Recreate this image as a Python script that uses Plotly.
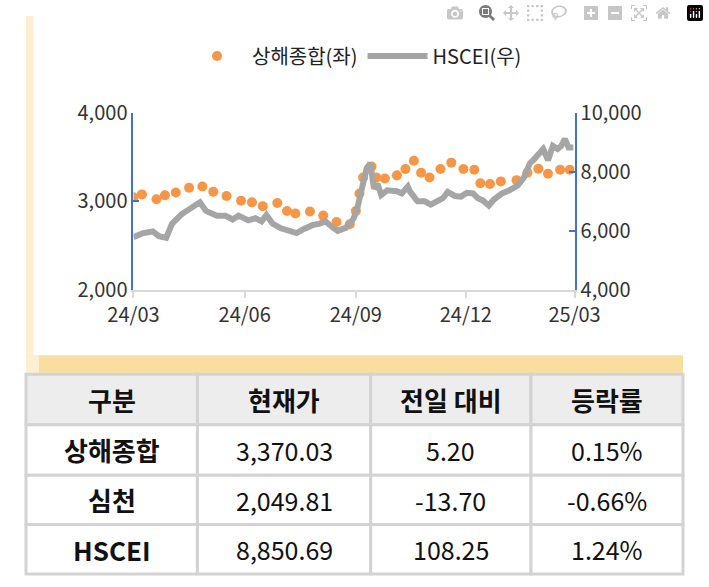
import plotly.graph_objects as go

sh_dates = ["2024-03-01","2024-03-08","2024-03-20","2024-03-27","2024-04-05","2024-04-16","2024-04-27",
            "2024-05-06","2024-05-17","2024-05-29","2024-06-07","2024-06-16","2024-06-28","2024-07-06",
            "2024-07-13","2024-07-25","2024-08-05","2024-08-16","2024-08-27","2024-09-01","2024-09-04",
            "2024-09-07","2024-09-14","2024-09-18","2024-09-25","2024-10-05","2024-10-12","2024-10-19",
            "2024-10-25","2024-11-01","2024-11-10","2024-11-19","2024-11-29","2024-12-08","2024-12-13",
            "2024-12-21","2024-12-30","2025-01-12","2025-01-21","2025-01-30","2025-02-07","2025-02-17",
            "2025-02-25"]
sh_vals = [3046,3079,3025,3068,3100,3154,3169,3108,3061,3007,2989,2946,2982,2892,2863,2885,2839,2767,
           2742,2892,3090,3269,3394,3269,3258,3294,3366,3459,3323,3269,3366,3438,3366,3358,3204,3197,
           3226,3240,3323,3369,3312,3358,3358]

hs_dates = ["2024-03-01","2024-03-09","2024-03-17","2024-03-22","2024-03-28","2024-04-02","2024-04-10",
            "2024-04-16","2024-04-25","2024-04-30","2024-05-09","2024-05-16","2024-05-22","2024-05-27",
            "2024-06-04","2024-06-10","2024-06-15","2024-06-19","2024-06-24","2024-07-01","2024-07-07",
            "2024-07-14","2024-07-20","2024-07-27","2024-08-02","2024-08-07","2024-08-12","2024-08-17",
            "2024-08-24","2024-08-30","2024-09-02","2024-09-06","2024-09-10","2024-09-13","2024-09-14",
            "2024-09-16","2024-09-19","2024-09-22","2024-09-27","2024-10-05","2024-10-09","2024-10-14",
            "2024-10-16","2024-10-22","2024-10-28","2024-11-02","2024-11-07","2024-11-12","2024-11-16",
            "2024-11-22","2024-11-27","2024-12-02","2024-12-07","2024-12-11","2024-12-15","2024-12-20",
            "2024-12-24","2024-12-31","2025-01-06","2025-01-13","2025-01-18","2025-01-23","2025-01-27",
            "2025-01-31","2025-02-03","2025-02-07","2025-02-11","2025-02-15","2025-02-18","2025-02-21",
            "2025-02-24","2025-02-28"]
hs_vals = [5785,5924,5978,5817,5763,6247,6570,6731,6968,6677,6516,6516,6387,6516,6355,6430,6322,6537,
           6247,6086,6032,5924,6064,6193,6247,6322,6140,6000,6107,6408,6731,7484,8129,8290,7914,7430,
           7591,7215,7376,7344,7269,7505,7322,7000,7000,6892,7000,7107,7322,7183,7161,7290,7269,7107,
           7032,6860,7054,7269,7376,7537,7806,8290,8451,8613,8774,8398,8882,8774,8882,9118,8828,8828]

tbl_header = ["구분", "현재가", "전일 대비", "등락률"]
tbl_names = ["상해종합", "심천", "HSCEI"]
tbl_price = ["3,370.03", "2,049.81", "8,850.69"]
tbl_change = ["5.20", "-13.70", "108.25"]
tbl_rate = ["0.15%", "-0.66%", "1.24%"]

W, H = 709, 587
FONT = "Noto Sans CJK KR"
fig = go.Figure()
fig.add_trace(go.Scatter(x=sh_dates, y=sh_vals, mode="markers", name="상해종합(좌)",
                         marker=dict(color="#f79646", size=10), yaxis="y"))
fig.add_trace(go.Scatter(x=hs_dates, y=hs_vals, mode="lines", name="HSCEI(우)",
                         line=dict(color="#a5a5a5", width=6), yaxis="y2"))

# table drawn with shapes + annotations
col_edges = [0, 185, 372, 545, 709]
row_edges = [377, 430, 483, 535, 587]
rows = [tbl_header] + [list(r) for r in zip(tbl_names, tbl_price, tbl_change, tbl_rate)]
shapes = [
    dict(type="rect", xref="paper", yref="paper", x0=0, x1=8 / W, y0=1 - 357 / H, y1=1,
         fillcolor="#fdf0d2", line_width=0, layer="below"),
    dict(type="rect", xref="paper", yref="paper", x0=0, x1=1, y0=1 - 377 / H, y1=1 - 357 / H,
         fillcolor="#f9dea0", line_width=0, layer="below"),
    dict(type="rect", xref="paper", yref="paper", x0=0, x1=14 / W, y0=1 - 377 / H, y1=1 - 357 / H,
         fillcolor="#fdf0d2", line_width=0, layer="below"),
]
annotations = []
for ri, row in enumerate(rows):
    for ci, txt in enumerate(row):
        x0, x1 = col_edges[ci], col_edges[ci + 1]
        y0, y1 = row_edges[ri], row_edges[ri + 1]
        shapes.append(dict(type="rect", xref="paper", yref="paper", x0=x0 / W, x1=x1 / W,
                           y0=1 - y1 / H, y1=1 - y0 / H,
                           fillcolor="#ededed" if ri == 0 else "white",
                           line=dict(color="#d3d3d3", width=3), layer="below"))
        bold = ri == 0 or ci == 0
        annotations.append(dict(xref="paper", yref="paper", x=(x0 + x1) / 2 / W,
                                y=1 - (y0 + y1) / 2 / H, showarrow=False,
                                text=("<b>%s</b>" % txt) if bold else txt,
                                font=dict(family=FONT, size=26 if bold else 25, color="#111"),
                                xanchor="center", yanchor="middle"))

axfont = dict(family=FONT, size=20, color="#333")
fig.update_layout(
    width=W, height=H, margin=dict(l=0, r=0, t=0, b=0),
    paper_bgcolor="white", plot_bgcolor="white",
    font=dict(family=FONT),
    xaxis=dict(domain=[116 / W, 592 / W], type="date", range=["2024-03-01", "2025-03-01"],
               tickvals=["2024-03-01", "2024-06-01", "2024-09-01", "2024-12-01", "2025-03-01"],
               tickformat="%y/%m", showgrid=False, showline=True, linecolor="#d9d9d9", linewidth=2,
               ticks="outside", tickcolor="#d9d9d9", ticklen=6, tickwidth=2, tickfont=axfont, anchor="y"),
    yaxis=dict(domain=[1 - 288 / H, 1 - 102 / H], range=[2000, 4000], dtick=1000, tickformat=",",
               showgrid=False, showline=True, linecolor="#4472c4", linewidth=2, ticks="inside",
               tickcolor="#4472c4", ticklen=6, tickwidth=2, tickfont=axfont, zeroline=False),
    yaxis2=dict(overlaying="y", side="right", range=[4000, 10000], dtick=2000, tickformat=",",
                showgrid=False, showline=True, linecolor="#4472c4", linewidth=2, ticks="inside",
                tickcolor="#4472c4", ticklen=6, tickwidth=2, tickfont=axfont, zeroline=False,
                anchor="x"),
    legend=dict(orientation="h", x=0.5, xanchor="center", y=1 - 42 / H, yanchor="middle",
                font=dict(family=FONT, size=20, color="#222"), itemwidth=60),
    shapes=shapes, annotations=annotations,
)
fig.write_html("out.html")
with open("out.html", encoding="utf-8") as f:
    html = f.read()
html = html.replace("<head>", "<head><style>html,body{margin:0;padding:0;overflow:hidden}</style>", 1)
with open("out.html", "w", encoding="utf-8") as f:
    f.write(html)
